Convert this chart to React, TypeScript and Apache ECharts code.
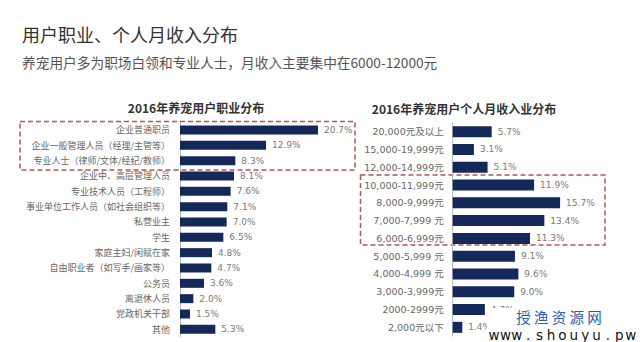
import React, { useEffect, useRef } from "react";
import * as echarts from "echarts";

const jobCategories = [
  "企业普通职员",
  "企业一般管理人员（经理/主管等）",
  "专业人士（律师/文体/经纪/教师）",
  "企业中、高层管理人员",
  "专业技术人员（工程师）",
  "事业单位工作人员（如社会组织等）",
  "私营业主",
  "学生",
  "家庭主妇/闲赋在家",
  "自由职业者（如写手/画家等）",
  "公务员",
  "离退休人员",
  "党政机关干部",
  "其他",
];
const jobValues = [20.7, 12.9, 8.3, 8.1, 7.6, 7.1, 7.0, 6.5, 4.8, 4.7, 3.6, 2.0, 1.5, 5.3];

const incomeCategories = [
  "20,000元及以上",
  "15,000-19,999元",
  "12,000-14,999元",
  "10,000-11,999元",
  "8,000-9,999元",
  "7,000-7,999 元",
  "6,000-6,999元",
  "5,000-5,999 元",
  "4,000-4,999 元",
  "3,000-3,999元",
  "2000-2999元",
  "2,000元以下",
];
const incomeValues = [5.7, 3.1, 5.1, 11.9, 15.7, 13.4, 11.3, 9.1, 9.6, 9.0, 4.7, 1.4];

const mainTitle = "用户职业、个人月收入分布";
const subTitle = "养宠用户多为职场白领和专业人士，月收入主要集中在6000-12000元";
const leftTitle = "2016年养宠用户职业分布";
const rightTitle = "2016年养宠用户个人月收入业分布";
const watermarkCn = "授 渔 资 源 网";
const watermarkUrl = "www.shouyu.pw";

const BAR = "#14285a";
const CJK = "'Noto Sans CJK SC', 'DejaVu Sans', sans-serif";
const LAT = "'DejaVu Sans', 'Noto Sans CJK SC', sans-serif";

export default function App() {
  const ref = useRef<HTMLDivElement>(null);
  useEffect(() => {
    if (!ref.current) return;
    const chart = echarts.init(ref.current, null, { renderer: "svg" });

    const urlChars = watermarkUrl.split("").map((ch, i) => ({
      type: "text",
      z: 101,
      x: 494 + i * 11.4,
      y: 335,
      style: {
        text: ch,
        fill: "#111",
        font: `13.5px ${LAT}`,
        textAlign: "center",
        textVerticalAlign: "middle",
      },
    }));

    const labelCommon = {
      show: true,
      position: "right",
      distance: 6,
      formatter: (p: any) => `${Number(p.value).toFixed(1)}%`,
      color: "#7a7a7a",
      fontSize: 9,
      fontFamily: LAT,
    };

    chart.setOption({
      animation: false,
      backgroundColor: "#fff",
      grid: [
        { left: 180, top: 122.3, width: 200, height: 214.7 },
        { left: 452.7, top: 122.8, width: 136.8, height: 213.4 },
      ],
      xAxis: [
        { type: "value", gridIndex: 0, min: 0, max: 30, show: false },
        { type: "value", gridIndex: 1, min: 0, max: 20, show: false },
      ],
      yAxis: [
        {
          type: "category",
          gridIndex: 0,
          data: jobCategories,
          inverse: true,
          axisLine: { show: true, lineStyle: { color: "#b7bcc8", width: 1 } },
          axisTick: { show: false },
          splitLine: { show: false },
          axisLabel: { color: "#666", fontSize: 9, margin: 10, fontFamily: CJK },
        },
        {
          type: "category",
          gridIndex: 1,
          data: incomeCategories,
          inverse: true,
          axisLine: { show: true, lineStyle: { color: "#b7bcc8", width: 1 } },
          axisTick: { show: false },
          splitLine: { show: false },
          axisLabel: { color: "#666", fontSize: 9.5, margin: 9, fontFamily: LAT },
        },
      ],
      series: [
        {
          type: "bar",
          xAxisIndex: 0,
          yAxisIndex: 0,
          data: jobValues,
          barWidth: 9,
          itemStyle: { color: BAR },
          label: labelCommon,
        },
        {
          type: "bar",
          xAxisIndex: 1,
          yAxisIndex: 1,
          data: incomeValues,
          barWidth: 11,
          itemStyle: { color: BAR },
          label: labelCommon,
        },
      ],
      graphic: [
        {
          type: "text",
          x: 22,
          y: 34,
          style: { text: mainTitle, fill: "#333", font: `18px ${CJK}`, textVerticalAlign: "middle" },
        },
        {
          type: "text",
          x: 22,
          y: 62,
          style: { text: subTitle, fill: "#555", font: `13.7px ${CJK}`, textVerticalAlign: "middle" },
        },
        {
          type: "text",
          x: 196,
          y: 107,
          style: {
            text: leftTitle,
            fill: "#333",
            font: `bold 12px ${CJK}`,
            textAlign: "center",
            textVerticalAlign: "middle",
          },
        },
        {
          type: "text",
          x: 464,
          y: 108,
          style: {
            text: rightTitle,
            fill: "#333",
            font: `bold 12px ${CJK}`,
            textAlign: "center",
            textVerticalAlign: "middle",
          },
        },
        {
          type: "rect",
          shape: { x: 20, y: 121.5, width: 335, height: 48.5 },
          style: { fill: "none", stroke: "#b65450", lineWidth: 1.5, lineDash: [5, 3] },
        },
        {
          type: "rect",
          shape: { x: 360.5, y: 175, width: 244.5, height: 70 },
          style: { fill: "none", stroke: "#b65450", lineWidth: 1.5, lineDash: [5, 3] },
        },
        {
          type: "rect",
          z: 100,
          shape: { x: 487, y: 308, width: 153, height: 34 },
          style: { fill: "#fff" },
        },
        {
          type: "text",
          z: 101,
          x: 559,
          y: 316.5,
          style: {
            text: watermarkCn,
            fill: "#2a5db5",
            font: `14.5px ${CJK}`,
            textAlign: "center",
            textVerticalAlign: "middle",
          },
        },
        ...urlChars,
      ],
    });
    return () => chart.dispose();
  }, []);
  return (
    <div
      ref={ref}
      style={{ position: "fixed", left: 0, top: 0, width: 640, height: 342, background: "#fff" }}
    />
  );
}
